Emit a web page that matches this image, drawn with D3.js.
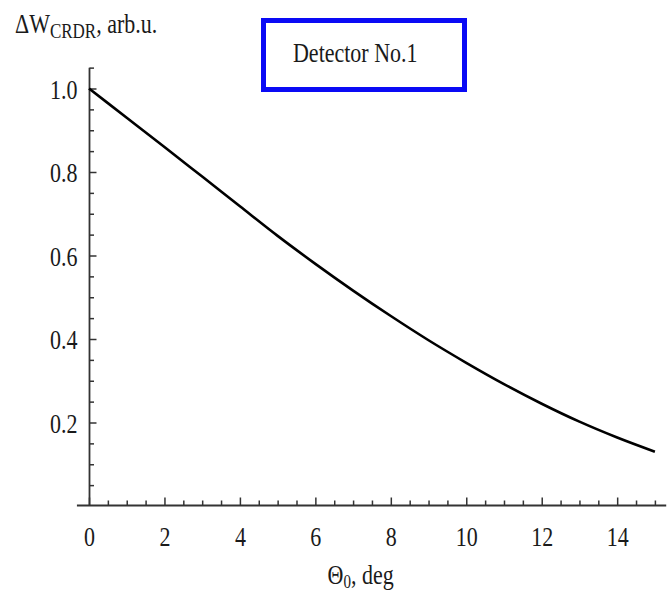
<!DOCTYPE html>
<html>
<head>
<meta charset="utf-8">
<script src="https://cdn.jsdelivr.net/npm/d3@7"></script>
<style>
  html, body { margin: 0; padding: 0; background: #fff; }
  svg { display: block; }
  text { font-family: "Liberation Serif", "Times New Roman", serif; fill: #1a1a1a; }
</style>
</head>
<body>
<script>
// Detector signal versus incidence angle
const thetaDeg = [0, 1, 2, 3, 4, 5, 6, 7, 8, 9, 10, 11, 12, 13, 14, 15];
const deltaW   = [1.000, 0.930, 0.860, 0.789, 0.718, 0.647, 0.580, 0.516, 0.455, 0.397, 0.343, 0.292, 0.245, 0.202, 0.164, 0.130];
const xMajorTicks = [0, 2, 4, 6, 8, 10, 12, 14];
const yMajorTicks = [0.2, 0.4, 0.6, 0.8, 1.0];
const legendLabel = "Detector No.1";

const W = 667, H = 592;
const SY = 1.22;        // glyphs are drawn slightly tall
const FS = 22;

const svg = d3.select("body").append("svg")
  .attr("width", W).attr("height", H);

const x = d3.scaleLinear().domain([0, 15]).range([89, 654.9]);
const y = d3.scaleLinear().domain([0, 1]).range([506, 88.5]);

const axisColor = "#333";

// ---- x axis (ticks point up into the plot) ----
const xMinor = d3.range(0.5, 15.01, 0.5).filter(v => !xMajorTicks.includes(v));
const gx = svg.append("g").attr("transform", `translate(0,${y(0) - 0.5})`);
gx.append("g")
  .call(d3.axisBottom(x).tickValues(xMinor).tickSize(-5).tickFormat(""))
  .call(g => g.select(".domain").remove());
gx.append("g")
  .call(d3.axisBottom(x).tickValues(xMajorTicks).tickSize(-8).tickFormat(d3.format("d")))
  .call(g => g.select(".domain").remove())
  .call(g => g.selectAll("text")
    .attr("font-size", FS)
    .attr("font-family", "Liberation Serif")
    .attr("fill", "#1a1a1a")
    .attr("y", 40.5 / SY).attr("dy", 0)
    .attr("transform", `scale(1,${SY})`));
gx.selectAll(".tick line").attr("stroke", axisColor).attr("stroke-width", 1.5);
gx.append("line")
  .attr("x1", x(-0.32)).attr("x2", x(15.3))
  .attr("stroke", axisColor).attr("stroke-width", 1.8);

// ---- y axis (ticks point right into the plot) ----
const yMinor = d3.range(0.05, 1.051, 0.05).map(v => +v.toFixed(2)).filter(v => !yMajorTicks.includes(v));
const gy = svg.append("g").attr("transform", `translate(${x(0) + 0.5},0)`);
gy.append("g")
  .call(d3.axisLeft(y).tickValues(yMinor).tickSize(-4.5).tickFormat(""))
  .call(g => g.select(".domain").remove());
gy.append("g")
  .call(d3.axisLeft(y).tickValues(yMajorTicks).tickSize(-7).tickPadding(12).tickFormat(d3.format(".1f")))
  .call(g => g.select(".domain").remove())
  .call(g => g.selectAll("text")
    .attr("font-size", FS)
    .attr("font-family", "Liberation Serif")
    .attr("fill", "#1a1a1a")
    .attr("dy", "0.36em")
    .attr("transform", `scale(1,${SY})`));
gy.selectAll(".tick line").attr("stroke", axisColor).attr("stroke-width", 1.5);
gy.append("line")
  .attr("y1", y(0)).attr("y2", y(1.05))
  .attr("stroke", axisColor).attr("stroke-width", 1.8);

// ---- curve ----
const line = d3.line()
  .x((d, i) => x(thetaDeg[i]))
  .y(d => y(d))
  .curve(d3.curveMonotoneX);
svg.append("path")
  .datum(deltaW)
  .attr("d", line)
  .attr("fill", "none")
  .attr("stroke", "#000")
  .attr("stroke-width", 2.6)
  .attr("stroke-linecap", "butt");

// ---- y axis title: ΔW_CRDR, arb.u. ----
const yt = svg.append("text")
  .attr("transform", `translate(15,33) scale(1,${SY})`)
  .attr("font-size", FS);
yt.append("tspan").text("\u0394W");
yt.append("tspan").attr("font-size", 17).attr("dy", 4.2).text("CRDR");
yt.append("tspan").attr("dy", -4.2).text(", arb.u.");

// ---- x axis title: Θ0, deg ----
const xt = svg.append("text")
  .attr("transform", `translate(${x(7.2)},584) scale(1,${SY})`)
  .attr("text-anchor", "middle")
  .attr("font-size", FS);
xt.append("tspan").text("\u0398");
xt.append("tspan").attr("font-size", 15).attr("dy", 3.5).text("0");
xt.append("tspan").attr("dy", -3.5).text(", deg");

// ---- framed label ----
const box = svg.append("g");
box.append("rect")
  .attr("x", 263.5).attr("y", 20.5)
  .attr("width", 201).attr("height", 69)
  .attr("fill", "#fff")
  .attr("stroke", "#0a0af5")
  .attr("stroke-width", 5);
box.append("text")
  .attr("transform", `translate(293,62) scale(1,${SY})`)
  .attr("font-size", FS)
  .text(legendLabel);
</script>
</body>
</html>
